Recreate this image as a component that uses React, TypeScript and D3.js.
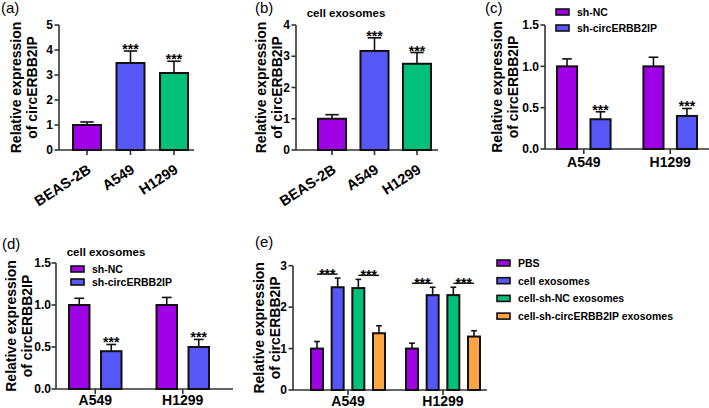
import React from 'react';
import * as d3 from 'd3';

// values
const cellLines = ['BEAS-2B', 'A549', 'H1299'];
const cellMean = [1.0, 3.48, 3.08];
const cellErr = [0.12, 0.48, 0.47];
const cellExoMean = [1.0, 3.17, 2.76];
const cellExoErr = [0.13, 0.42, 0.36];

const lungLines = ['A549', 'H1299'];
const shSeries = ['sh-NC', 'sh-circERBB2IP'];
const shCellMean = [[1.0, 0.36], [1.0, 0.40]];
const shCellErr = [[0.09, 0.09], [0.11, 0.09]];
const shExoMean = [[1.0, 0.45], [1.0, 0.50]];
const shExoErr = [[0.08, 0.08], [0.09, 0.09]];

const treatSeries = ['PBS', 'cell exosomes', 'cell-sh-NC exosomes', 'cell-sh-circERBB2IP exosomes'];
const treatMean = [[1.0, 2.48, 2.46, 1.37], [1.0, 2.29, 2.29, 1.29]];
const treatErr = [[0.17, 0.22, 0.21, 0.18], [0.13, 0.19, 0.19, 0.14]];
const treatPairs: [number, number][] = [[0, 1], [2, 3]];

const PURPLE = '#a000e6';
const BLUE = '#5757f7';
const GREEN = '#00c07a';
const ORANGE = '#ffa443';
const AXIS = '#333';
const FONT = '"Liberation Sans", Arial, sans-serif';

type Panel = {
  tag: string;
  tagX: number;
  tagY: number;
  title?: { text: string; x: number; y: number };
  groups: string[];
  mean: number[][];
  err: number[][];
  color: (g: number, s: number) => string;
  star: (g: number, s: number) => boolean;
  pairs?: [number, number][];
  legend?: { names: string[]; colors: string[]; x: number; y: number; dy: number };
  axisX: number;
  xEnd: number;
  y0: number;
  yTop: number;
  yMax: number;
  nTicks: number;
  fmt: string;
  barStart: number;
  barEnd: number;
  groupPad: number;
  seriesPad: number;
  rotate: boolean;
  t1: number; // offsets of the two y-title lines from the axis
  t2: number;
  tickGap: number;
  labelDy: number;
};

const one = (a: number[]) => a.map((v) => [v]);

const panels: Panel[] = [
  {
    tag: '(a)', tagX: 1, tagY: 13,
    groups: cellLines, mean: one(cellMean), err: one(cellErr),
    color: (g) => [PURPLE, BLUE, GREEN][g], star: (g) => g > 0,
    axisX: 59, xEnd: 194, y0: 150, yTop: 25, yMax: 5, nTicks: 5, fmt: 'd',
    barStart: 73, barEnd: 188, groupPad: 0.356, seriesPad: 0, rotate: true,
    t1: 38, t2: 22, tickGap: 6, labelDy: 22,
  },
  {
    tag: '(b)', tagX: 255, tagY: 13,
    title: { text: 'cell exosomes', x: 346, y: 17 },
    groups: cellLines, mean: one(cellExoMean), err: one(cellExoErr),
    color: (g) => [PURPLE, BLUE, GREEN][g], star: (g) => g > 0,
    axisX: 296, xEnd: 438, y0: 150, yTop: 25, yMax: 4, nTicks: 4, fmt: 'd',
    barStart: 318, barEnd: 431, groupPad: 0.34, seriesPad: 0, rotate: true,
    t1: 30, t2: 14, tickGap: 6, labelDy: 22,
  },
  {
    tag: '(c)', tagX: 485, tagY: 13,
    groups: lungLines, mean: shCellMean, err: shCellErr,
    color: (_g, s) => [PURPLE, BLUE][s], star: (_g, s) => s === 1,
    legend: { names: shSeries, colors: [PURPLE, BLUE], x: 556, y: 12, dy: 16 },
    axisX: 545, xEnd: 712, y0: 149, yTop: 25, yMax: 1.5, nTicks: 3, fmt: '.1f',
    barStart: 557, barEnd: 697, groupPad: 0.38, seriesPad: 0.4, rotate: false,
    t1: 43, t2: 27, tickGap: 6, labelDy: 18,
  },
  {
    tag: '(d)', tagX: 2, tagY: 249,
    title: { text: 'cell exosomes', x: 106, y: 256 },
    groups: lungLines, mean: shExoMean, err: shExoErr,
    color: (_g, s) => [PURPLE, BLUE][s], star: (_g, s) => s === 1,
    legend: { names: shSeries, colors: [PURPLE, BLUE], x: 71, y: 269, dy: 13 },
    axisX: 56, xEnd: 233, y0: 389, yTop: 263, yMax: 1.5, nTicks: 3, fmt: '.1f',
    barStart: 69, barEnd: 209, groupPad: 0.4, seriesPad: 0.36, rotate: false,
    t1: 40, t2: 24, tickGap: 5, labelDy: 16,
  },
  {
    tag: '(e)', tagX: 255, tagY: 247,
    groups: lungLines, mean: treatMean, err: treatErr,
    color: (_g, s) => [PURPLE, BLUE, GREEN, ORANGE][s], star: () => false,
    pairs: treatPairs,
    legend: { names: treatSeries, colors: [PURPLE, BLUE, GREEN, ORANGE], x: 497, y: 263, dy: 17.7 },
    axisX: 293, xEnd: 487, y0: 390, yTop: 265.7, yMax: 3, nTicks: 3, fmt: 'd',
    barStart: 311, barEnd: 480, groupPad: 0.221, seriesPad: 0.42, rotate: false,
    t1: 29, t2: 13, tickGap: 6, labelDy: 15.5,
  },
];

function BarPanel({ p }: { p: Panel }) {
  const y = d3.scaleLinear().domain([0, p.yMax]).range([p.y0, p.yTop]);
  const nSeries = p.mean[0].length;
  const xg = d3.scaleBand<string>().domain(p.groups).range([p.barStart, p.barEnd])
    .paddingInner(p.groupPad).paddingOuter(0);
  const xs = d3.scaleBand<number>().domain(d3.range(nSeries)).range([0, xg.bandwidth()])
    .paddingInner(p.seriesPad).paddingOuter(0);
  const bw = xs.bandwidth();
  const fmt = d3.format(p.fmt);
  const yMid = (p.y0 + p.yTop) / 2;

  return (
    <g>
      <text x={p.tagX} y={p.tagY} fontSize={15} fontFamily={FONT}>{p.tag}</text>
      {p.title && (
        <text x={p.title.x} y={p.title.y} fontSize={11.5} fontWeight="bold" textAnchor="middle" fontFamily={FONT}>
          {p.title.text}
        </text>
      )}
      {/* y-axis title, two lines */}
      <g fontSize={14} fontWeight="bold" textAnchor="middle" fontFamily={FONT}>
        <text transform={`translate(${p.axisX - p.t1},${yMid}) rotate(-90)`}>Relative expression</text>
        <text transform={`translate(${p.axisX - p.t2},${yMid}) rotate(-90)`}>of circERBB2IP</text>
      </g>
      {/* y axis */}
      <line x1={p.axisX} x2={p.axisX} y1={p.y0} y2={p.yTop} stroke={AXIS} strokeWidth={1.6} />
      {y.ticks(p.nTicks).map((t) => (
        <g key={t}>
          <line x1={p.axisX - 4.5} x2={p.axisX} y1={y(t)} y2={y(t)} stroke={AXIS} strokeWidth={1.6} />
          <text x={p.axisX - p.tickGap} y={y(t) + 4.2} fontSize={12} fontWeight="bold" textAnchor="end" fontFamily={FONT}>
            {fmt(t)}
          </text>
        </g>
      ))}
      {/* x axis */}
      <line x1={p.axisX} x2={p.xEnd} y1={p.y0} y2={p.y0} stroke={AXIS} strokeWidth={1.6} />
      {p.groups.map((g) => {
        const cx = (xg(g) as number) + xg.bandwidth() / 2;
        return (
          <g key={g}>
            <line x1={cx} x2={cx} y1={p.y0} y2={p.y0 + 5} stroke={AXIS} strokeWidth={1.6} />
            {p.rotate ? (
              <text transform={`translate(${cx + 5},${p.y0 + p.labelDy}) rotate(-33)`} fontSize={14.5} fontWeight="bold" textAnchor="end" fontFamily={FONT}>
                {g}
              </text>
            ) : (
              <text x={cx} y={p.y0 + p.labelDy} fontSize={14} fontWeight="bold" textAnchor="middle" fontFamily={FONT}>
                {g}
              </text>
            )}
          </g>
        );
      })}
      {/* bars with upward error bars */}
      {p.groups.map((g, gi) =>
        p.mean[gi].map((v, si) => {
          const x0 = (xg(g) as number) + (xs(si) as number);
          const cx = x0 + bw / 2;
          const top = y(v);
          const eTop = y(v + p.err[gi][si]);
          const cap = bw * 0.24;
          return (
            <g key={`${g}-${si}`}>
              <line x1={cx} x2={cx} y1={top} y2={eTop} stroke="#111" strokeWidth={1.6} />
              <line x1={cx - cap} x2={cx + cap} y1={eTop} y2={eTop} stroke="#111" strokeWidth={1.6} />
              <rect x={x0} y={top} width={bw} height={p.y0 - top} fill={p.color(gi, si)} stroke="#111" strokeWidth={2} />
              {p.star(gi, si) && (
                <text x={cx} y={eTop + 3} fontSize={14} fontWeight="bold" textAnchor="middle" fontFamily={FONT}>***</text>
              )}
            </g>
          );
        })
      )}
      {/* significance lines */}
      {p.pairs && p.groups.map((g, gi) =>
        p.pairs!.map(([a, b]) => {
          const xa = (xg(g) as number) + (xs(a) as number) + bw / 2;
          const xb = (xg(g) as number) + (xs(b) as number) + bw / 2;
          const ly = Math.min(y(p.mean[gi][a] + p.err[gi][a]), y(p.mean[gi][b] + p.err[gi][b])) - 4;
          return (
            <g key={`${g}-p${a}`}>
              <line x1={xa} x2={xb} y1={ly} y2={ly} stroke="#111" strokeWidth={1.4} />
              <text x={(xa + xb) / 2} y={ly + 5} fontSize={14} fontWeight="bold" textAnchor="middle" fontFamily={FONT}>***</text>
            </g>
          );
        })
      )}
      {/* legend */}
      {p.legend && p.legend.names.map((n, i) => {
        const ly = p.legend!.y + i * p.legend!.dy;
        return (
          <g key={n}>
            <rect x={p.legend!.x} y={ly - 3} width={13} height={6} fill={p.legend!.colors[i]} stroke="#111" strokeWidth={1.6} />
            <text x={p.legend!.x + 21} y={ly + 4} fontSize={10.5} fontWeight="bold" fontFamily={FONT}>{n}</text>
          </g>
        );
      })}
    </g>
  );
}

export default function App() {
  return (
    <svg width={709} height={408} style={{ position: 'absolute', left: 0, top: 0, background: '#fff' }}>
      {panels.map((p) => (
        <BarPanel key={p.tag} p={p} />
      ))}
    </svg>
  );
}
